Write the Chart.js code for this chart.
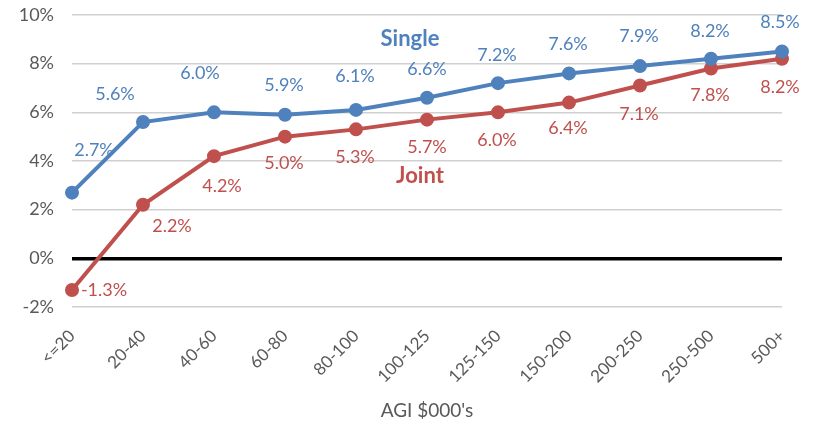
<!DOCTYPE html>
<html><head><meta charset="utf-8">
<script src="https://cdn.jsdelivr.net/npm/chart.js@4"></script>
<style>html,body{margin:0;padding:0;background:#fff}#wrap{width:814px;height:422px}</style>
</head><body><div id="wrap"><canvas id="c" width="814" height="422"></canvas></div>
<script>
const categories = ['<=20','20-40','40-60','60-80','80-100','100-125','125-150','150-200','200-250','250-500','500+'];
const singleValues = [2.7,5.6,6.0,5.9,6.1,6.6,7.2,7.6,7.9,8.2,8.5];
const jointValues = [-1.3,2.2,4.2,5.0,5.3,5.7,6.0,6.4,7.1,7.8,8.2];
const seriesNames = ['Single','Joint'];
const axisTitle = "AGI $000's";

const FONT = 'Lato, "Open Sans", sans-serif';
const BLUE = '#4f81bd', RED = '#c0504d';

// label offsets (styling): [dx, dy] per point
const labelOffsets = {
  0: [[22,-42],[-28,-28],[-14,-39],[-1,-30],[-1,-34],[0,-29],[-1,-28],[-1,-29],[-1,-30],[-1,-28],[-2,-29]],
  1: [[32,0],[29,21],[8,30],[-1,27],[-1,28],[0,28],[-1,28],[-1,26],[-1,29],[-1,27],[-2,28]]
};

const dataLabels = {
  id:'dataLabels',
  afterDatasetsDraw(chart){
    const ctx = chart.ctx;
    chart.data.datasets.forEach((ds,di)=>{
      const meta = chart.getDatasetMeta(di);
      ctx.save();
      ctx.fillStyle = ds.borderColor;
      ctx.font = '18px ' + FONT;
      ctx.textAlign='center'; ctx.textBaseline='middle';
      meta.data.forEach((pt,i)=>{
        const o = labelOffsets[di][i];
        ctx.fillText(ds.data[i].toFixed(1)+'%', pt.x+o[0], pt.y+o[1]);
      });
      const p = meta.data[5];
      ctx.font = 'bold 22px ' + FONT;
      if (di===0) ctx.fillText(ds.label, p.x-17, p.y-59);
      else ctx.fillText(ds.label, p.x-7, p.y+56);
      ctx.restore();
    });
  }
};

new Chart(document.getElementById('c'),{
  type:'line',
  data:{
    labels:categories,
    datasets:[
      {label:seriesNames[0],data:singleValues,borderColor:BLUE,backgroundColor:BLUE,borderWidth:4,pointRadius:5,pointHoverRadius:5,tension:0},
      {label:seriesNames[1],data:jointValues,borderColor:RED,backgroundColor:RED,borderWidth:4,pointRadius:5,pointHoverRadius:5,tension:0}
    ]
  },
  options:{
    responsive:false,animation:false,
    layout:{padding:{top:15,right:32,left:0,bottom:0}},
    plugins:{legend:{display:false},tooltip:{enabled:false}},
    scales:{
      x:{
        offset:false,
        grid:{display:false},
        border:{display:false},
        ticks:{color:'#595959',font:{family:FONT,size:17},maxRotation:45,minRotation:45,padding:11,autoSkip:false},
        title:{display:true,text:axisTitle,color:'#595959',font:{family:FONT,size:19},padding:{top:2,bottom:0}},
        afterFit(s){s.height=115;}
      },
      y:{
        min:-2,max:10,
        border:{display:false},
        grid:{
          color:c=>c.tick && c.tick.value===0 ? '#000000' : '#d0d0d0',
          lineWidth:c=>c.tick && c.tick.value===0 ? 3.5 : 1.5,
          drawTicks:false
        },
        ticks:{stepSize:2,color:'#595959',font:{family:FONT,size:18},padding:18,callback:v=>v+'%'},
        afterFit(s){s.width=72;s.paddingTop=0;s.paddingBottom=0;}
      }
    }
  },
  plugins:[dataLabels]
});
</script></body></html>
